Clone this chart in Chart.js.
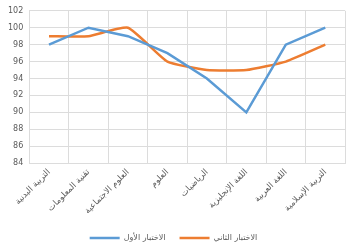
<!DOCTYPE html>
<html>
<head>
<meta charset="utf-8">
<script src="https://cdn.jsdelivr.net/npm/chart.js@4"></script>
<style>
  html, body { margin: 0; padding: 0; background: #fff; }
  #wrap { width: 346px; height: 252px; }
</style>
</head>
<body>
<div id="wrap"><canvas id="chart" width="346" height="252"></canvas></div>
<script>
const subjects = [
    "التربية البدنية",
    "تقنية المعلومات",
    "العلوم الاجتماعية",
    "العلوم",
    "الرياضيات",
    "اللغة الإنجليزية",
    "اللغة العربية",
    "التربية الإسلامية"
];

const firstTest = [98, 100, 99, 97, 94, 90, 98, 100];
const secondTest = [99, 99, 100, 96, 95, 95, 96, 98];

const seriesNames = ["الاختبار الأول", "الاختبار الثاني"];

const gridColor = '#dcdcdc';
const textColor = '#595959';

new Chart(document.getElementById("chart"), {
    type: 'line',
    data: {
        labels: subjects,
        datasets: [
            {
                label: seriesNames[0],
                data: firstTest,
                borderColor: '#5b9bd5',
                backgroundColor: '#5b9bd5',
                borderWidth: 2.5,
                pointRadius: 0,
                tension: 0
            },
            {
                label: seriesNames[1],
                data: secondTest,
                borderColor: '#ed7d31',
                backgroundColor: '#ed7d31',
                borderWidth: 2.5,
                pointRadius: 0,
                tension: 0.15
            }
        ]
    },
    options: {
        responsive: false,
        animation: false,
        layout: {
            padding: { left: 2, right: 1, top: 8, bottom: 0 }
        },
        plugins: {
            legend: {
                position: 'bottom',
                labels: {
                    usePointStyle: true,
                    pointStyle: 'line',
                    pointStyleWidth: 30,
                    boxHeight: 8,
                    color: textColor,
                    padding: 14,
                    font: { family: 'DejaVu Sans', size: 8 }
                }
            },
            tooltip: { enabled: false }
        },
        scales: {
            x: {
                offset: true,
                grid: {
                    offset: true,
                    color: gridColor,
                    drawTicks: false
                },
                border: { color: gridColor },
                ticks: {
                    minRotation: 45,
                    maxRotation: 45,
                    autoSkip: false,
                    color: textColor,
                    padding: 4,
                    font: { family: 'DejaVu Sans', size: 8.5 }
                }
            },
            y: {
                min: 84,
                max: 102,
                grid: {
                    color: gridColor,
                    drawTicks: false
                },
                border: { display: false },
                ticks: {
                    stepSize: 2,
                    color: textColor,
                    padding: 6,
                    font: { family: 'DejaVu Sans', size: 8 }
                }
            }
        }
    }
});
</script>
</body>
</html>
